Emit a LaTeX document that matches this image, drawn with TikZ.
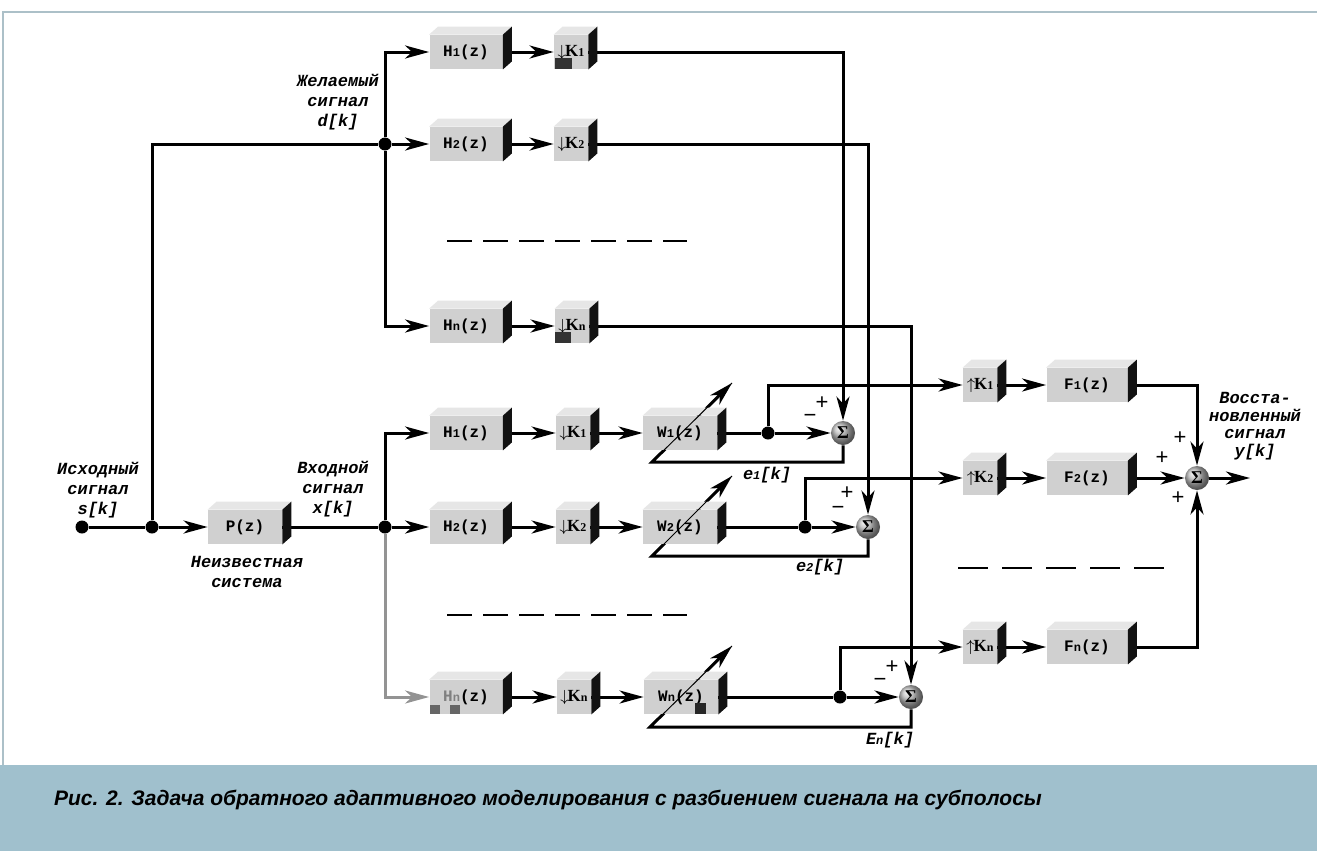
\documentclass[tikz,border=0pt]{standalone}
\usepackage{fontspec}
\setmainfont{Liberation Serif}
\newfontfamily\monofam{Liberation Mono}
\newfontfamily\sansfam{Liberation Sans}
\usetikzlibrary{arrows.meta,calc,shadings}
\pgfdeclarelayer{back}
\pgfdeclarelayer{bg}
\pgfsetlayers{back,bg,main}

\definecolor{bandblue}{RGB}{160,192,205}
\definecolor{framecol}{RGB}{172,192,200}
\definecolor{boxfront}{RGB}{208,208,208}
\definecolor{boxtop}{RGB}{230,230,230}
\definecolor{boxside}{RGB}{18,18,18}

% small index digit inside block titles and labels
\newcommand\ix[1]{{\fontsize{6}{6}\selectfont #1}}
% decimator / expander titles
\newcommand\kdn[1]{{\rmfamily\bfseries\fontsize{8.5}{10}\selectfont$\downarrow$\kern-0.6pt K\ix{#1}}}
\newcommand\kup[1]{{\rmfamily\bfseries\fontsize{8.5}{10}\selectfont$\uparrow$\kern-0.6pt K\ix{#1}}}

\tikzset{
  x=0.5pt, y=-0.5pt,
  blkface/.style={fill=boxfront, inner sep=0pt, minimum height=17pt,
    font=\monofam\bfseries\fontsize{8}{10}\selectfont},
  line/.style={line width=1.5pt},
  arr/.style={line, -{Stealth[length=12pt,width=6.5pt,inset=3.5pt]}},
  dot/.style={circle, fill=black, inner sep=0pt, minimum size=6.5pt},
  summer/.style={circle, inner sep=0pt, minimum size=12pt, shading=ball,
    ball color=gray!55, font=\rmfamily\bfseries\fontsize{9}{9}\selectfont},
  lbl/.style={align=center, font=\monofam\bfseries\itshape\fontsize{8.5}{10}\selectfont},
  sgn/.style={font=\sansfam\fontsize{11}{11}\selectfont},
  dashline/.style={line width=1.3pt},
}

% 3D block: name, centre, front width (px), title
\newcommand\blk[4]{%
  \node[blkface, minimum width=#3*0.5pt] (#1) at (#2) {#4};
  \fill[boxtop] (#1.north west) -- ++(9,-8) -- ([shift={(9,-8)}]#1.north east) -- (#1.north east) -- cycle;
  \fill[boxside] (#1.north east) -- ++(9,-8) -- ([shift={(9,-8)}]#1.south east) -- (#1.south east) -- cycle;
}

\begin{document}
\begin{tikzpicture}
\useasboundingbox (0,0) rectangle (1317,851);

% frame and caption band
\begin{pgfonlayer}{back}
  \fill[white] (0,0) rectangle (1317,851);
  \draw[framecol, line width=0.7pt] (1317,12) -- (3,12) -- (3,765);
  \fill[bandblue] (0,765) rectangle (1317,851);
\end{pgfonlayer}
\node[anchor=base west, font=\sansfam\bfseries\itshape\fontsize{10.5}{12}\selectfont] (cap) at (47,805)
  {Рис. 2. Задача обратного адаптивного моделирования с разбиением сигнала на субполосы};

% ---- desired-signal bank
\blk{H1t}{466,52}{73}{H\ix1(z)}
\blk{K1t}{571,52}{34}{\kdn1}
\blk{H2t}{466,144}{73}{H\ix2(z)}
\blk{K2t}{571,144}{34}{\kdn2}
\blk{Hnt}{466,326}{73}{H\ix n(z)}
\blk{Knt}{572,326}{34}{\kdn n}

% ---- unknown system
\blk{P}{245,527}{74}{P(z)}

% ---- input-signal bank with adaptive filters
\blk{H1b}{466,433}{73}{H\ix1(z)}
\blk{K1b}{573,433}{34}{\kdn1}
\blk{W1}{680,433}{74}{W\ix1(z)}
\blk{H2b}{466,527}{73}{H\ix2(z)}
\blk{K2b}{573,527}{34}{\kdn2}
\blk{W2}{680,527}{74}{W\ix2(z)}
\blk{Hnb}{466,697}{73}{{\color{gray}H\ix n}(z)}
\blk{Knb}{574,697}{34}{\kdn n}
\blk{Wn}{681,697}{74}{W\ix n(z)}

% ---- synthesis bank
\blk{U1}{980,385}{34}{\kup1}
\blk{F1}{1087,385}{81}{F\ix1(z)}
\blk{U2}{980,478}{34}{\kup2}
\blk{F2}{1087,478}{81}{F\ix2(z)}
\blk{Un}{980,647}{34}{\kup n}
\blk{Fn}{1087,647}{81}{F\ix n(z)}

% small dark patches on some blocks
\fill[black!80] (555,58) rectangle (572,69);
\fill[black!80] (555,332) rectangle (571,343);
\fill[gray!80!black] (430,705) rectangle (440,714);
\fill[gray!80!black] (450,705) rectangle (460,714);
\fill[black!85] (695,703) rectangle (706,714);

% ---- junction dots
\node[dot] (s0) at (82,527) {};
\node[dot] (S) at (152,527) {};
\node[dot] (T) at (385,144) {};
\node[dot] (X) at (385,527) {};
\node[dot] (B1) at (768,433) {};
\node[dot] (B2) at (805,527) {};
\node[dot] (B3) at (840,697) {};

% ---- summing junctions
\node[summer] (S1) at (843,433) {Σ};
\node[summer] (S2) at (868,527) {Σ};
\node[summer] (S3) at (911,697) {Σ};
\node[summer] (Sf) at (1197,478) {Σ};

% free ends
\coordinate (yout) at (1250,478);
\coordinate (fb1) at (652,462);
\coordinate (ad1) at (732,383);
\coordinate (fb2) at (652,556);
\coordinate (ad2) at (732,476);
\coordinate (fb3) at (650,727);
\coordinate (ad3) at (732,646);
\coordinate (da1) at (447,241);
\coordinate (db1) at (687,241);
\coordinate (da2) at (447,615);
\coordinate (db2) at (687,615);
\coordinate (da3) at (958,568);
\coordinate (db3) at (1166,568);

\begin{pgfonlayer}{bg}
  % source and split
  \draw[line] (s0) -- (S);
  \draw[arr] (S) -- (P.west);
  \draw[line] (S) |- (T);
  \draw[arr] (T) -- (H2t.west);
  \draw[arr] (T) |- (H1t.west);
  \draw[arr] (T) |- (Hnt.west);
  \draw[arr] (H1t.east) -- (K1t.west);
  \draw[arr] (H2t.east) -- (K2t.west);
  \draw[arr] (Hnt.east) -- (Knt.west);
  \draw[arr] (K1t.east) -| (S1.north);
  \draw[arr] (K2t.east) -| (S2.north);
  \draw[arr] (Knt.east) -| (S3.north);
  % input bank
  \draw[line] (P.east) -- (X);
  \draw[arr] (X) -- (H2b.west);
  \draw[arr] (X) |- (H1b.west);
  \draw[arr, gray!85] (X) |- (Hnb.west);
  \draw[arr] (H1b.east) -- (K1b.west);
  \draw[arr] (K1b.east) -- (W1.west);
  \draw[arr] (H2b.east) -- (K2b.west);
  \draw[arr] (K2b.east) -- (W2.west);
  \draw[arr] (Hnb.east) -- (Knb.west);
  \draw[arr] (Knb.east) -- (Wn.west);
  \draw[line] (W1.east) -- (B1);
  \draw[line] (W2.east) -- (B2);
  \draw[line] (Wn.east) -- (B3);
  \draw[arr] (B1) -- (S1.west);
  \draw[arr] (B2) -- (S2.west);
  \draw[arr] (B3) -- (S3.west);
  % error feedback to the adaptive filters
  \draw[arr] (S1.south) |- (fb1) -- (ad1);
  \draw[arr] (S2.south) |- (fb2) -- (ad2);
  \draw[arr] (S3.south) |- (fb3) -- (ad3);
  % synthesis
  \draw[arr] (B1) |- (U1.west);
  \draw[arr] (B2) |- (U2.west);
  \draw[arr] (B3) |- (Un.west);
  \draw[arr] (U1.east) -- (F1.west);
  \draw[arr] (U2.east) -- (F2.west);
  \draw[arr] (Un.east) -- (Fn.west);
  \draw[arr] (F1.east) -| (Sf.north);
  \draw[arr] (F2.east) -- (Sf.west);
  \draw[arr] (Fn.east) -| (Sf.south);
  \draw[arr] (Sf.east) -- (yout);
  % omitted channels
  \draw[dashline, dash pattern=on 12.5pt off 5.5pt] (da1) -- (db1);
  \draw[dashline, dash pattern=on 12.5pt off 5.5pt] (da2) -- (db2);
  \draw[dashline, dash pattern=on 15pt off 7pt] (da3) -- (db3);
\end{pgfonlayer}

% adaptation strokes crossing the filter blocks
\draw[line width=0.5pt] (fb1) -- (ad1);
\draw[line width=0.5pt] (fb2) -- (ad2);
\draw[line width=0.5pt] (fb3) -- (ad3);

% signs at the summing junctions
\node[sgn] (p1) at (822,403) {+};
\node[sgn] (m1) at (810,418) {−};
\node[sgn] (p2) at (847,493) {+};
\node[sgn] (m2) at (838,510) {−};
\node[sgn] (p3) at (892,667) {+};
\node[sgn] (m3) at (880,682) {−};
\node[sgn] (pf1) at (1180,438) {+};
\node[sgn] (pf2) at (1162,458) {+};
\node[sgn] (pf3) at (1178,498) {+};

% signal labels
\node[lbl] (ld) at (338,102) {Желаемый\\сигнал\\d[k]};
\node[lbl] (ls) at (98,490) {Исходный\\сигнал\\s[k]};
\node[lbl] (lx) at (333,489) {Входной\\сигнал\\x[k]};
\node[lbl] (lp) at (247,572) {Неизвестная\\система};
\node[lbl, font=\monofam\bfseries\itshape\fontsize{8.5}{8.8}\selectfont] (ly) at (1255,426) {Восста-\\новленный\\сигнал\\y[k]};
\node[lbl] (le1) at (767,475) {e\ix1[k]};
\node[lbl] (le2) at (820,567) {e\ix2[k]};
\node[lbl] (len) at (890,740) {E\ix n[k]};
\end{tikzpicture}
\end{document}
